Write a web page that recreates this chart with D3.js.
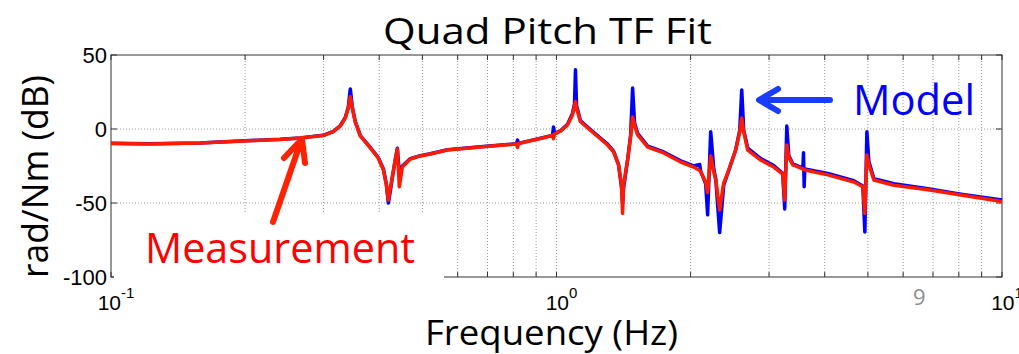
<!DOCTYPE html>
<html>
<head>
<meta charset="utf-8">
<script src="https://cdn.jsdelivr.net/npm/d3@7"></script>
<style>
  body { margin: 0; background: #fff; }
  svg { display: block; }
</style>
</head>
<body>
<div id="chart"></div>
<script>
// frequency points (Hz)
const freqHz = [0.100, 0.122, 0.1585, 0.199, 0.240, 0.266, 0.2995, 0.3155, 0.327, 0.3357,
  0.341, 0.3445, 0.348, 0.3535, 0.3627, 0.382, 0.398, 0.4087, 0.415, 0.4193,
  0.4236, 0.428, 0.4345, 0.4393, 0.4438, 0.4508, 0.4698, 0.4947, 0.5209, 0.569,
  0.675, 0.8133, 0.8175, 0.8218, 0.9206, 0.9795, 0.9846, 0.9897, 1.021, 1.0586,
  1.086, 1.0975, 1.103, 1.109, 1.132, 1.211, 1.302, 1.343, 1.378, 1.400,
  1.407, 1.414, 1.444, 1.467, 1.482, 1.497, 1.521, 1.602, 1.740, 1.900,
  2.032, 2.096, 2.107, 2.162, 2.184, 2.196, 2.219, 2.254, 2.278, 2.324,
  2.373, 2.423, 2.525, 2.578, 2.605, 2.632, 2.687, 2.873, 3.073, 3.219,
  3.253, 3.288, 3.322, 3.392, 3.572, 3.585, 3.597, 3.609, 4.064, 4.650,
  4.871, 4.922, 4.974, 5.025, 5.157, 5.720, 6.820, 8.089, 10.0];

const measurementDb = [-9.8, -10.2, -9.5, -8.1, -7.1, -6.1, -4.4, -1.7, 2.0, 7.4,
  14.2, 21.8, 14.0, 4.7, -4.7, -12.8, -19.6, -27.7, -37.8, -48,
  -40, -32.4, -21, -13.5, -39, -25.7, -20.3, -18.2, -16.9, -14.2,
  -12.2, -10.1, -12.5, -9.8, -6.4, -4.4, -6.5, -3.4, -1.4, 2.7,
  9.5, 15.5, 18.5, 14.2, 4.9, -2.7, -10.8, -15.5, -24.3, -38,
  -57, -38, -21, -5.4, 8.1, 2.7, -4, -12.2, -16.2, -22.3,
  -25.7, -28, -29, -35.8, -43, -33, -18.2, -29, -34.5, -54.7,
  -36.5, -29.7, -14.2, -2, 7.4, -2, -14.2, -21, -25.7, -30.4,
  -48, -10.8, -19, -24.3, -27, -27.3, -27.3, -27.7, -31, -35.8,
  -39, -57, -17.6, -24, -34.5, -38, -41, -44.6, -49];

const modelDb = [-9.7, -10.0, -9.4, -8.0, -7.0, -6.0, -4.3, -1.6, 2.2, 7.8,
  15, 27, 15, 5, -4.5, -12.5, -19.3, -27, -37, -50,
  -42, -33, -21, -13, -30, -25, -20, -18, -16.7, -14,
  -12, -10, -7.5, -9.7, -6.2, -4.3, 1.4, -3.3, -1.2, 3.2,
  10.5, 17, 40, 16, 5.5, -2.2, -10.2, -15, -24, -40,
  -50, -40, -21, -4, 27.7, 4, -3, -11.5, -15.5, -21.5,
  -25, -24, -28.5, -37, -58, -38, -1.8, -27, -34, -70,
  -38, -30, -14, -1, 26.4, -1, -13, -20, -24.7, -30,
  -54, 2, -18, -23.5, -26.5, -16, -39, -27, -30, -35,
  -38.5, -69.6, -1.8, -22, -33.5, -37, -40.3, -44, -48];

const yTickValues = [-100, -50, 0, 50];
const yGridValues = [-50, 0];
const xDecades = [0.1, 1, 10];
const xDecadeExponents = ['-1', '0', '1'];

const width = 1019, height = 354;
const plot = {left: 111, right: 1002, top: 55, bottom: 277};
const calibri = '"Open Sans", "Noto Sans", sans-serif';
const arial = '"Liberation Sans", Arial, sans-serif';

const svg = d3.select('#chart')
  .append('svg')
    .attr('width', width)
    .attr('height', height)
    .attr('viewBox', [0, 0, width, height].toString());

const x = d3.scaleLog().domain([0.1, 10]).range([plot.left, plot.right]);
const y = d3.scaleLinear().domain([-100, 50]).range([plot.bottom, plot.top]);

// grid
const grid = svg.append('g').attr('id', 'grid');
const logTicks = x.ticks().filter(d => d > 0.1 && d < 10);

grid.selectAll('line.vgrid')
  .data(logTicks).enter().append('line')
    .attr('class', 'vgrid')
    .attr('x1', d => x(d)).attr('x2', d => x(d))
    .attr('y1', plot.top).attr('y2', plot.bottom)
    .style('stroke', '#9a9a9a')
    .style('stroke-width', 1)
    .style('stroke-dasharray', '1,2');

grid.selectAll('line.hgrid')
  .data(yGridValues).enter().append('line')
    .attr('class', 'hgrid')
    .attr('x1', plot.left).attr('x2', plot.right)
    .attr('y1', d => y(d)).attr('y2', d => y(d))
    .style('stroke', '#9a9a9a')
    .style('stroke-width', 1)
    .style('stroke-dasharray', '1,2');

// box + inward ticks
const axes = svg.append('g').attr('id', 'axes');
axes.append('rect')
  .attr('x', plot.left).attr('y', plot.top)
  .attr('width', plot.right - plot.left).attr('height', plot.bottom - plot.top)
  .style('fill', 'none')
  .style('stroke', '#333')
  .style('stroke-width', 1);

const allXTicks = x.ticks();
[plot.top, plot.bottom].forEach(edge => {
  const dir = edge === plot.top ? 1 : -1;
  axes.append('g').selectAll('line')
    .data(allXTicks).enter().append('line')
      .attr('x1', d => x(d)).attr('x2', d => x(d))
      .attr('y1', edge).attr('y2', edge + dir * 5)
      .style('stroke', '#333');
});
[plot.left, plot.right].forEach(edge => {
  const dir = edge === plot.left ? 1 : -1;
  axes.append('g').selectAll('line')
    .data(yTickValues).enter().append('line')
      .attr('y1', d => y(d)).attr('y2', d => y(d))
      .attr('x1', edge).attr('x2', edge + dir * 6)
      .style('stroke', '#333');
});

// curves
const line = d3.line()
  .x(d => x(d[0]))
  .y(d => y(d[1]));

const curves = svg.append('g').attr('id', 'curves');
curves.append('path')
  .datum(freqHz.map((f, i) => [f, modelDb[i]]))
  .attr('d', line)
  .style('fill', 'none')
  .style('stroke', '#0000ff')
  .style('stroke-width', 3.5)
  .style('stroke-linejoin', 'round');

curves.append('path')
  .datum(freqHz.map((f, i) => [f, measurementDb[i]]))
  .attr('d', line)
  .style('fill', 'none')
  .style('stroke', '#ff1a00')
  .style('stroke-width', 3.5)
  .style('stroke-linejoin', 'round');

// tick labels
const labels = svg.append('g').attr('id', 'labels');
labels.selectAll('text.ylab')
  .data(yTickValues).enter().append('text')
    .attr('class', 'ylab')
    .attr('x', plot.left - 4)
    .attr('y', d => y(d) + 8)
    .attr('text-anchor', 'end')
    .style('font-family', arial)
    .style('font-size', '22px')
    .text(d => d);

xDecades.forEach((d, i) => {
  const t = labels.append('text')
    .attr('x', x(d) + 5)
    .attr('y', 310)
    .attr('text-anchor', 'middle')
    .style('font-family', arial)
    .style('font-size', '21px');
  t.append('tspan').text('10');
  t.append('tspan')
    .attr('dy', -12)
    .style('font-size', '15px')
    .text(xDecadeExponents[i]);
});

// titles
svg.append('text')
  .attr('x', 383).attr('y', 44)
  .attr('textLength', 329).attr('lengthAdjust', 'spacingAndGlyphs')
  .style('font-family', calibri).style('font-size', '36px')
  .text('Quad Pitch TF Fit');

svg.append('text')
  .attr('x', 425).attr('y', 345)
  .attr('textLength', 253).attr('lengthAdjust', 'spacingAndGlyphs')
  .style('font-family', calibri).style('font-size', '35px')
  .text('Frequency (Hz)');

svg.append('text')
  .attr('transform', 'translate(48,278) rotate(-90)')
  .attr('textLength', 203).attr('lengthAdjust', 'spacingAndGlyphs')
  .style('font-family', calibri).style('font-size', '36px')
  .text('rad/Nm (dB)');

svg.append('text')
  .attr('x', 913).attr('y', 305)
  .style('font-family', calibri).style('font-size', '22px')
  .style('fill', '#8c8c8c')
  .text('9');

// annotations
const notes = svg.append('g').attr('id', 'annotations');
notes.append('rect')
  .attr('x', 114).attr('y', 213)
  .attr('width', 330).attr('height', 70)
  .style('fill', '#fff');

notes.append('text')
  .attr('x', 145).attr('y', 263)
  .attr('textLength', 270).attr('lengthAdjust', 'spacingAndGlyphs')
  .style('font-family', calibri).style('font-size', '42px')
  .style('fill', '#ff0000')
  .text('Measurement');

notes.append('path')
  .attr('d', 'M273,222 L301,141 M284,158 L302,139 L305,163')
  .style('fill', 'none')
  .style('stroke', '#ff2200')
  .style('stroke-width', 6)
  .style('stroke-linecap', 'round')
  .style('stroke-linejoin', 'round');

notes.append('text')
  .attr('x', 853).attr('y', 115)
  .attr('textLength', 122).attr('lengthAdjust', 'spacingAndGlyphs')
  .style('font-family', calibri).style('font-size', '42px')
  .style('fill', '#0000ff')
  .text('Model');

notes.append('path')
  .attr('d', 'M830,100 L760,100 M778,89 L759,100 L778,111')
  .style('fill', 'none')
  .style('stroke', '#1a3cff')
  .style('stroke-width', 6)
  .style('stroke-linecap', 'round')
  .style('stroke-linejoin', 'round');
</script>
</body>
</html>
